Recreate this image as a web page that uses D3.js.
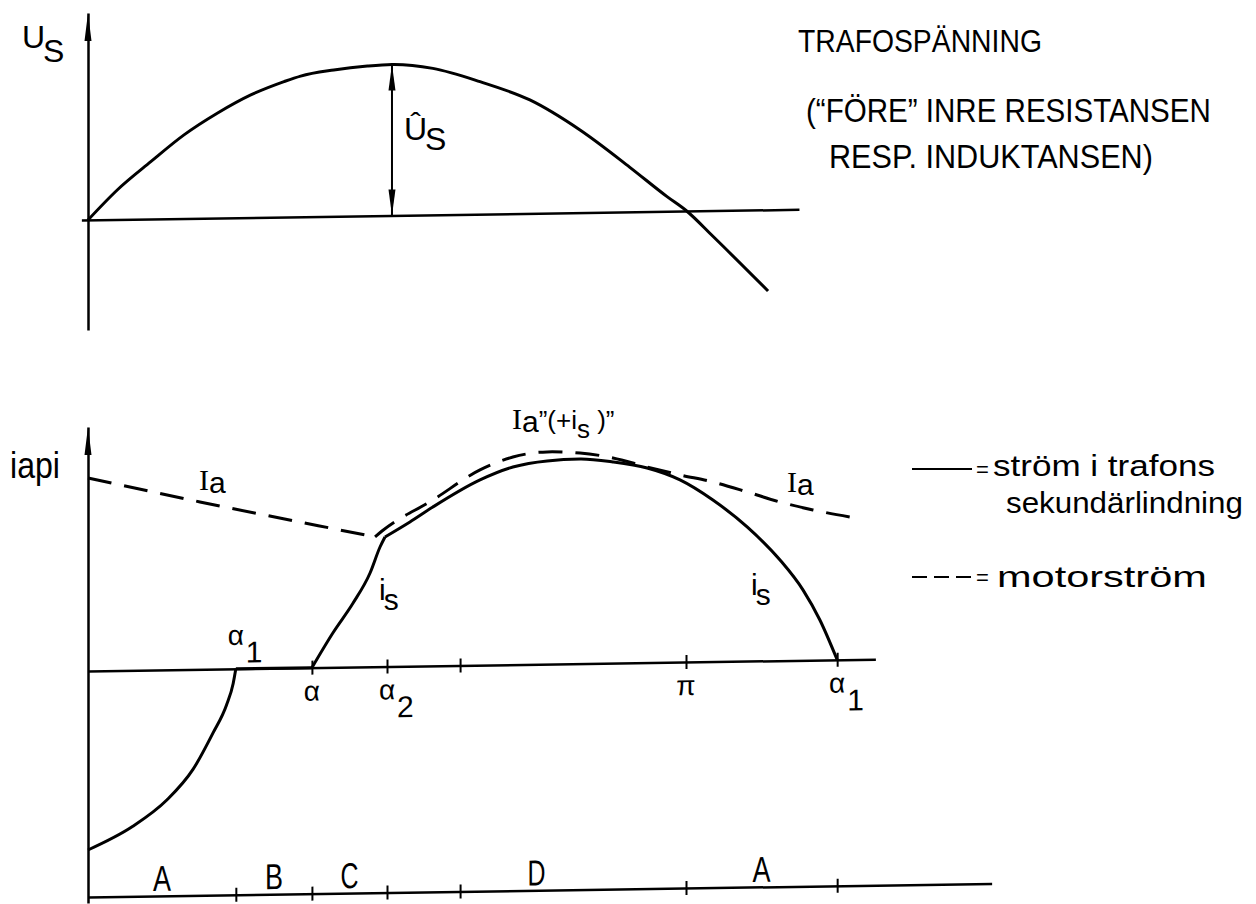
<!DOCTYPE html>
<html lang="sv">
<head>
    <meta charset="UTF-8">
    <title>Trafospänning och strömmar</title>
    <script src="https://d3js.org/d3.v7.min.js"></script>
    <style>
        body { margin: 0; background: #fff; }
        text { font-family: "Liberation Sans", Arial, sans-serif; fill: #000; }
    </style>
</head>
<body>

<script>
    // [electrical angle in degrees, value relative to its axis]
    usPoints = [[0, 0], [8.8, 0.196], [18.9, 0.38], [28.9, 0.554], [38.9, 0.694], [49, 0.812],
        [59, 0.897], [64, 0.932], [74, 0.969], [84.1, 0.992], [91.5, 1.0], [103.8, 0.97],
        [118, 0.877], [133, 0.751], [148.1, 0.547], [163.1, 0.295], [174.3, 0.097], [180.2, 0],
        [188.1, -0.17], [204.7, -0.538]]

    isNegPoints = [[0, -0.895], [13.5, -0.78], [23.8, -0.65], [31.6, -0.5], [37.6, -0.32],
        [41.7, -0.18], [43.7, -0.073], [44.5, 0]]
    isZeroPoints = [[44.5, 0], [67.4, 0]]
    isRisePoints = [[67.4, 0], [73.7, 0.172], [79.8, 0.32], [84.9, 0.469], [87.9, 0.598], [89.4, 0.648]]
    isArcPoints = [[89.4, 0.648], [96.9, 0.721], [103.8, 0.794], [118, 0.926], [127.9, 0.988],
        [138.2, 1.016], [148.1, 1.023], [158, 1.006], [168.3, 0.973], [178.2, 0.911], [188.1, 0.808],
        [198.4, 0.671], [208.3, 0.503], [215.2, 0.352], [220.3, 0.2], [225.5, 0]]
    iaFallPoints = [[0, 0.965], [33.7, 0.837], [75.9, 0.686], [86.4, 0.649]]
    iaArcPoints = [[86.4, 0.649], [88.5, 0.678], [103.8, 0.829], [118, 0.976], [127.9, 1.038],
        [138.2, 1.061], [148.1, 1.053], [158, 1.026], [168.3, 0.978], [178.2, 0.936], [188.1, 0.898],
        [198.4, 0.846], [208.3, 0.793], [218.2, 0.751], [230.9, 0.708]]

    usPeak = 91.5
    zeroTicks = [67.4, 90, 112, 180, 225.5]
    baseTicks = [44.5, 67.4, 90, 112, 180, 225.5]
    tickLabels = [
        {name: "α", sub: "1", deg: 44.5, above: true},
        {name: "α", sub: "", deg: 67.4},
        {name: "α", sub: "2", deg: 90},
        {name: "π", sub: "", deg: 180},
        {name: "α", sub: "1", deg: 225.5}
    ]
    regions = [
        {name: "A", from: 0, to: 44.5},
        {name: "B", from: 44.5, to: 67.4},
        {name: "C", from: 67.4, to: 90},
        {name: "D", from: 90, to: 180},
        {name: "A", from: 180, to: 225.5}
    ]
    titleLines = ["TRAFOSPÄNNING", "(\u201CFÖRE\u201D INRE RESISTANSEN", "RESP. INDUKTANSEN)"]
    legendLines = ["ström i trafons", "sekundärlindning", "motorström"]

    //page
    w = 1256
    h = 904
    svg = d3.select("body")
        .append("svg")
        .attr("width", w)
        .attr("height", h)

    //scales
    x = d3.scaleLinear().domain([0, 180]).range([88, 686])
    yTop = d3.scaleLinear().domain([0, 1]).range([220, 69])
    yBot = d3.scaleLinear().domain([0, 1]).range([671, 471])

    // the scanned drawing is sheared a little, follow it
    sheet = svg.append("g")
        .attr("transform", "translate(88,0) skewY(-0.86) translate(-88,0)")

    function part(scale, lo, hi) {
        return scale.copy().domain([lo, hi]).range([scale(lo), scale(hi)])
    }

    // squeeze a text to the narrow lettering of the drawing
    function fit(t, width) {
        natural = t.node().getComputedTextLength()
        px = +t.attr("x")
        py = +t.attr("y")
        t.attr("transform", "translate(" + px + "," + py + ") scale(" + (width / natural) + ",1) translate(" + (-px) + "," + (-py) + ")")
        return t
    }

    function hAxis(y, lo, hi, ticks) {
        g = sheet.append("g")
            .attr("transform", "translate(0," + y + ")")
            .call(d3.axisBottom(part(x, lo, hi)).tickValues(ticks).tickFormat("").tickSizeOuter(0))
        g.select(".domain").attr("stroke-width", 2.5)
        g.selectAll(".tick line").attr("y1", -7).attr("y2", 7).attr("stroke-width", 2)
        return g
    }

    function vAxis(scale, lo, hi) {
        sheet.append("g")
            .attr("transform", "translate(" + x(0) + ",0)")
            .call(d3.axisLeft(part(scale, lo, hi)).tickValues([]).tickSizeOuter(0))
            .select(".domain").attr("stroke-width", 2.5)
        tip = scale(hi)
        sheet.append("path")
            .attr("d", "M" + (x(0) - 3.5) + "," + (tip + 28) + "L" + x(0) + "," + tip + "L" + (x(0) + 3.5) + "," + (tip + 28) + "Z")
            .attr("fill", "#000")
    }

    function curve(points, scale, dash, kind) {
        sheet.append("path")
            .datum(points)
            .attr("d", d3.line().x(d => x(d[0])).y(d => scale(d[1])).curve(kind || d3.curveMonotoneX))
            .attr("fill", "none")
            .attr("stroke", "#000")
            .attr("stroke-width", 3)
            .attr("stroke-linejoin", "round")
            .attr("stroke-dasharray", dash || null)
    }

    //upper diagram: transformer voltage
    hAxis(yTop(0), -2, 214, [])
    vAxis(yTop, -0.728, 1.371)
    curve(usPoints, yTop)

    // peak arrow
    sheet.append("line")
        .attr("x1", x(usPeak)).attr("x2", x(usPeak))
        .attr("y1", yTop(0)).attr("y2", yTop(1))
        .attr("stroke", "#000").attr("stroke-width", 2)
    ;[[yTop(1), 1], [yTop(0), -1]].forEach(([tip, dir]) => {
        sheet.append("path")
            .attr("d", "M" + (x(usPeak) - 3.5) + "," + (tip + dir * 26) + "L" + x(usPeak) + "," + tip + "L" + (x(usPeak) + 3.5) + "," + (tip + dir * 26) + "Z")
            .attr("fill", "#000")
    })

    //lower diagram: currents
    hAxis(yBot(0), 0, 237, zeroTicks)
    hAxis(yBot(-1.13), 0, 272, baseTicks)
    vAxis(yBot, -1.16, 1.22)

    curve(isNegPoints, yBot)
    curve(isZeroPoints, yBot, null, d3.curveLinear)
    curve(isRisePoints, yBot)
    curve(isArcPoints, yBot)
    curve(iaFallPoints, yBot, "24,13")
    curve(iaArcPoints, yBot, "24,13")

    tickLabels.forEach(d => {
        ty = yBot(0) + (d.above ? -24 : 33)
        sheet.append("text")
            .attr("x", x(d.deg)).attr("y", ty)
            .attr("text-anchor", "middle")
            .attr("font-size", 28)
            .text(d.name)
        if (d.sub) {
            sheet.append("text")
                .attr("x", x(d.deg) + 10).attr("y", ty + 18)
                .attr("font-size", 30)
                .text(d.sub)
        }
    })

    regions.forEach(d => {
        t = sheet.append("text")
            .attr("x", x((d.from + d.to) / 2)).attr("y", yBot(-1.13) - 5)
            .attr("text-anchor", "middle")
            .attr("font-size", 36)
            .text(d.name)
        fit(t, 18)
    })

    //free labels
    function label(px, py, size, main, sub, subDy) {
        t = svg.append("text").attr("x", px).attr("y", py).attr("font-size", size)
        t.append("tspan").text(main)
        if (sub) t.append("tspan").attr("dy", subDy).attr("dx", -2).text(sub)
        return t
    }

    label(22, 48, 32, "U", "S", 14)
    label(404, 140, 32, "Û", "S", 10)
    fit(label(10, 478, 36, "iapi"), 50)
    label(379, 600, 30, "i", "s", 10)
    label(751, 595, 30, "i", "s", 10)

    function ia(px, py) {
        t = svg.append("text").attr("x", px).attr("y", py).attr("font-size", 30)
        t.append("tspan").attr("font-family", "Liberation Serif").text("I")
        t.append("tspan").attr("dy", 3).text("a")
        return t
    }
    ia(199, 490)
    ia(787, 492)
    t = ia(512, 429)
    t.append("tspan").attr("dy", -3).attr("font-size", 26).text("\u201D(+i")
    t.append("tspan").attr("dy", 9).attr("font-size", 26).text("s")
    t.append("tspan").attr("dy", -9).attr("font-size", 26).text(" )\u201D")

    //title block
    titlePos = [[798, 52, 31, 244], [806, 122, 33, 405], [829, 168, 33, 324]]
    titleLines.forEach((s, i) => {
        p = titlePos[i]
        fit(svg.append("text").attr("x", p[0]).attr("y", p[1]).attr("font-size", p[2]).text(s), p[3])
    })

    //legend
    ;[[469, null], [577, "15,7"]].forEach(([ly, dash]) => {
        svg.append("line")
            .attr("x1", 912).attr("x2", 972)
            .attr("y1", ly).attr("y2", ly)
            .attr("stroke", "#000").attr("stroke-width", 2.2)
            .attr("stroke-dasharray", dash)
        svg.append("text").attr("x", 976).attr("y", ly + 8).attr("font-size", 22).text("=")
    })
    legendPos = [[993, 476, 222], [1006, 513, 237], [997, 587, 210]]
    legendLines.forEach((s, i) => {
        p = legendPos[i]
        fit(svg.append("text").attr("x", p[0]).attr("y", p[1]).attr("font-size", 29).text(s), p[2])
    })
</script>

</body>
</html>
